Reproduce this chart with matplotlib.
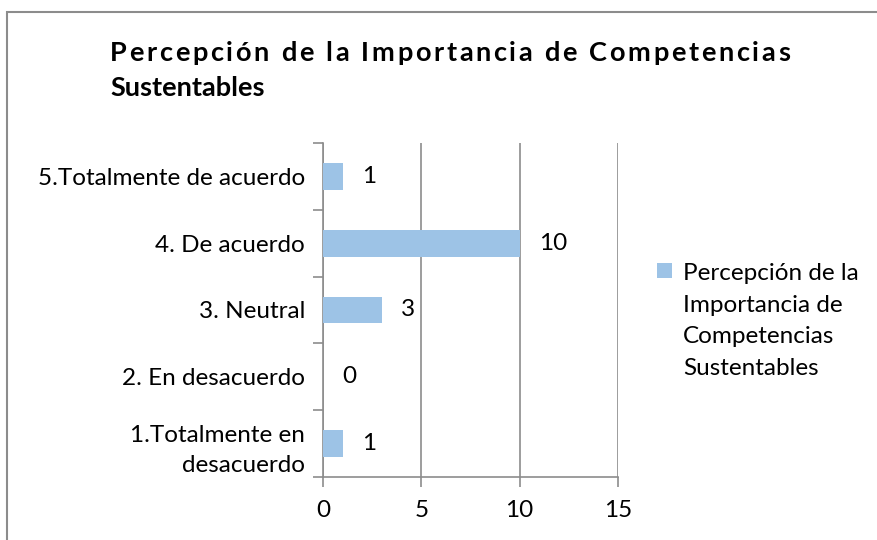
import matplotlib
matplotlib.use("Agg")
import matplotlib.pyplot as plt
from matplotlib.patches import Rectangle

categories = ["1.Totalmente en\ndesacuerdo", "2. En desacuerdo", "3. Neutral",
              "4. De acuerdo", "5.Totalmente de acuerdo"]
values = [1, 0, 3, 10, 1]
series_name = "Percepción de la\nImportancia de\nCompetencias\nSustentables"
title_line1 = "Percepción de la Importancia de Competencias"
title_line2 = "Sustentables"
xticks = [0, 5, 10, 15]

FONT = "Lato"
FS = 17.5
BAR = "#9DC3E6"
GRID = "#8C8C8C"

fig = plt.figure(figsize=(8.77, 5.4), dpi=100)
fig.patches.append(Rectangle((7/877, -0.01), 1.0, 1 - 12/540 + 0.01, transform=fig.transFigure,
                             fill=False, edgecolor="#8C8C8C", linewidth=1.5))

ax = fig.add_axes([323/877, 1 - 477/540, (618 - 323)/877, (477 - 143)/540])
y = list(range(len(categories)))
ax.barh(y, values, height=0.4, color=BAR, label=series_name, zorder=3)
ax.set_xlim(0, 15)
ax.set_ylim(-0.5, len(categories) - 0.5)
ax.set_xticks(xticks)
ax.set_xticklabels([str(t) for t in xticks], fontsize=FS, family=FONT)
ax.set_yticks([i - 0.5 for i in range(len(categories) + 1)])
ax.set_yticklabels([])
ax.set_yticks(y, minor=True)
ax.set_yticklabels(categories, minor=True, fontsize=FS, family=FONT, linespacing=1.55)
ax.tick_params(axis="y", which="minor", length=0, pad=13)
ax.tick_params(axis="y", which="major", length=7.5, color=GRID, direction="out", width=1.2)
ax.tick_params(axis="x", length=7.5, color=GRID, direction="out", pad=9, width=1.2)
ax.grid(axis="x", color=GRID, linewidth=1.2, zorder=0)
for s in ["top", "right"]:
    ax.spines[s].set_visible(False)
for s in ["left", "bottom"]:
    ax.spines[s].set_color(GRID)
    ax.spines[s].set_linewidth(1.2)

for yi, v in zip(y, values):
    ax.annotate(str(v), (v, yi), xytext=(19, 0), textcoords="offset pixels",
                ha="left", va="center", fontsize=FS, family=FONT)

# Title with letter spacing on first line
fig.canvas.draw()
renderer = fig.canvas.get_renderer()
tsize = 19.5
x0 = 110
target_w = 680
probe = fig.text(0, 0, title_line1, fontsize=tsize, fontweight="bold", family=FONT)
natural_w = probe.get_window_extent(renderer).width
probe.remove()
spacing = max(0, (target_w - natural_w) / (len(title_line1) - 1))
q = fig.text(0, 0, "|", fontsize=tsize, fontweight="bold", family=FONT)
qw = q.get_window_extent(renderer).width
q.remove()
for i, ch in enumerate(title_line1):
    if i == 0:
        pw = 0
    else:
        p = fig.text(0, 0, title_line1[:i] + "|", fontsize=tsize, fontweight="bold", family=FONT)
        pw = p.get_window_extent(renderer).width - qw
        p.remove()
    fig.text((x0 + pw + i * spacing) / 877, 1 - 53/540, ch, fontsize=tsize, fontweight="bold",
             family=FONT, ha="left", va="center")
fig.text(x0/877, 1 - 88/540, title_line2, fontsize=tsize, fontweight="bold", family=FONT,
         ha="left", va="center")

# Legend (manual placement to align swatch with first line)
fig.patches.append(Rectangle((657/877, 1 - 278/540), 15/877, 15/540, transform=fig.transFigure,
                             facecolor=BAR, edgecolor="none"))
fig.text(683/877, 1 - 321/540, series_name, fontsize=FS, family=FONT, ha="left", va="center",
         linespacing=1.63)

fig.savefig("out.png", dpi=100)
